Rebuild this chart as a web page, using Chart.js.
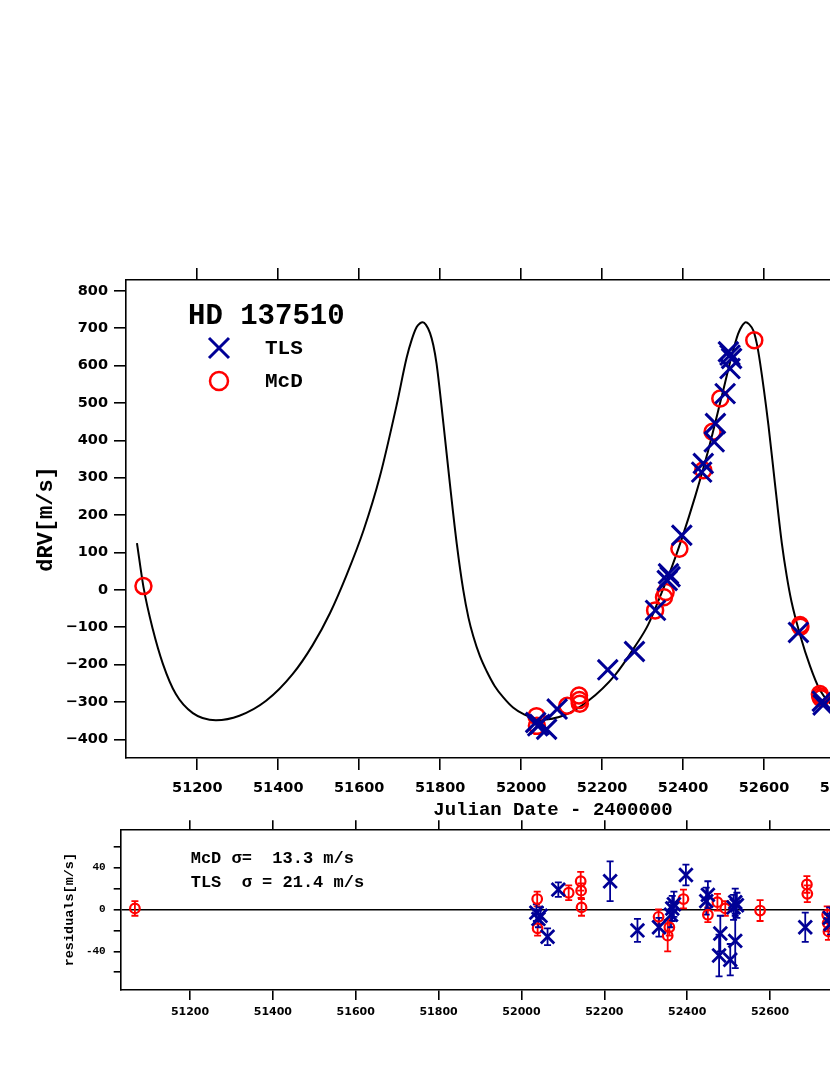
<!DOCTYPE html>
<html>
<head>
<meta charset="utf-8">
<script src="https://cdn.jsdelivr.net/npm/chart.js@4.4.1/dist/chart.umd.min.js"></script>
<style>
    html, body { margin: 0; padding: 0; background: #fff; overflow: hidden; }
    body { width: 830px; height: 1075px; position: relative; }
    #rv { position: absolute; left: 0; top: 0; }
    #res { position: absolute; left: 0; top: 800px; }
</style>
</head>
<body>
<canvas id="rv" width="1000" height="830"></canvas>
<canvas id="res" width="1000" height="275"></canvas>
<script>
// TLS: Julian date - 2400000, dRV (m/s), residual (m/s), error (m/s)
const tlsJD  = [52036, 52041, 52046, 52063, 52089, 52214, 52280, 52332, 52361, 52364, 52368, 52397,
                52446, 52450, 52477, 52480, 52504, 52512, 52516, 52516, 52520, 52685, 52744, 52746];
const tlsRV  = [-355, -364, -360, -373, -319, -214, -165, -55, 25, 43, 35, 146,
                315, 338, 396, 445, 525, 637, 628, 592, 619, -114, -298, -308];
const tlsRes = [-3, -9, -6, -26, 19, 27, -20, -17, -5, 1, 5, 33,
                8, 14, -44, -23, -48, 2, 7, -30, 4, -17, -8, -14];
const tlsErr = [8, 8, 8, 8, 7, 19, 11, 9, 12, 12, 12, 10,
                13, 13, 20, 17, 15, 12, 13, 26, 12, 14, 10, 10];

// McD
const mcdJD  = [51067, 52038, 52039, 52114, 52143, 52144, 52145, 52331, 52353, 52357,
                52391, 52450, 52473, 52492, 52576, 52689, 52690, 52738, 52739, 52741];
const mcdRV  = [10, -338, -364, -310, -283, -295, -305, -55, -20, -6,
                110, 320, 423, 512, 668, -94, -99, -279, -285, -290];
const mcdRes = [1, 10, -18, 16, 27, 18, 2, -7, -25, -17,
                10, -5, 7, 1, -1, 24, 15, -5, -13, -21];
const mcdErr = [7, 7, 7, 7, 9, 7, 8, 7, 15, 8,
                9, 7, 8, 7, 10, 8, 8, 8, 8, 8];

// orbit fit
const fitJD = [51051, 51067, 51090, 51115, 51147, 51189, 51246, 51304, 51370, 51436,
               51485, 51528, 51569, 51611, 51651, 51693, 51717, 51730, 51742, 51750,
               51757, 51765, 51775, 51783, 51791, 51808, 51824, 51841, 51857, 51870,
               51882, 51898, 51915, 51935, 51956, 51980, 52005, 52047, 52108, 52166,
               52232, 52281, 52314, 52347, 52372, 52397, 52430, 52462, 52495, 52520,
               52536, 52545, 52555, 52563, 52574, 52582, 52590, 52611, 52627, 52644,
               52656, 52668, 52689, 52714, 52738, 52763, 52800, 52850, 52900];
const fitRV = [125, 8, -105, -198, -279, -330, -349, -337, -297, -225,
               -148, -62, 40, 160, 303, 497, 620, 670, 703, 713,
               716, 709, 687, 655, 606, 445, 284, 123, 0, -75,
               -125, -177, -218, -258, -288, -315, -332, -348, -335, -297,
               -228, -152, -93, -8, 60, 137, 250, 372, 515, 625,
               685, 705, 716, 711, 693, 660, 610, 440, 285, 125,
               38, -32, -120, -205, -268, -303, -331, -347, -345];

const starName = 'HD 137510';
const sigmaLines = ['McD \u03C3=  13.3 m/s', 'TLS  \u03C3 = 21.4 m/s'];
const resLabelTicks = [-40, 0, 40];

const BLUE = '#000096';
const RED = '#ff0000';
const MONO = '"Liberation Mono", "DejaVu Sans Mono", monospace';
const SANS = '"DejaVu Sans", sans-serif';

function pts(xs, ys) {
    return xs.map((x, i) => ({ x: x, y: ys[i] }));
}

function minus(v) {
    return v < 0 ? '\u2212' + Math.abs(v) : String(v);
}

// legend drawn inside the upper panel
const rvLegend = {
    id: 'rvLegend',
    afterDraw(chart) {
        const ctx = chart.ctx;
        const a = chart.chartArea;
        ctx.save();
        ctx.fillStyle = '#000';
        ctx.textBaseline = 'middle';
        ctx.font = 'bold 29px ' + MONO;
        ctx.fillText(starName, a.left + 62, a.top + 37);

        const mx = a.left + 93;
        // TLS cross
        ctx.strokeStyle = BLUE;
        ctx.lineWidth = 3;
        ctx.beginPath();
        ctx.moveTo(mx - 10, a.top + 58); ctx.lineTo(mx + 10, a.top + 78);
        ctx.moveTo(mx - 10, a.top + 78); ctx.lineTo(mx + 10, a.top + 58);
        ctx.stroke();
        // McD circle
        ctx.strokeStyle = RED;
        ctx.lineWidth = 2.5;
        ctx.beginPath();
        ctx.arc(mx, a.top + 101, 9, 0, Math.PI * 2);
        ctx.stroke();

        ctx.font = 'bold 21px ' + MONO;
        ctx.fillText('TLS', a.left + 139, a.top + 69);
        ctx.fillText('McD', a.left + 139, a.top + 102);
        ctx.restore();
    }
};

// error bars + sigma text for the residual panel
const resExtras = {
    id: 'resExtras',
    beforeDatasetsDraw(chart) {
        const ctx = chart.ctx;
        const xs = chart.scales.x;
        const ys = chart.scales.y;
        const a = chart.chartArea;
        const sets = [[mcdJD, mcdRes, mcdErr, RED], [tlsJD, tlsRes, tlsErr, BLUE]];
        ctx.save();
        ctx.beginPath();
        ctx.rect(a.left, a.top, a.right - a.left, a.bottom - a.top);
        ctx.clip();
        ctx.lineWidth = 1.8;
        sets.forEach(([jd, res, err, col]) => {
            ctx.strokeStyle = col;
            jd.forEach((d, i) => {
                const px = xs.getPixelForValue(d);
                const y1 = ys.getPixelForValue(res[i] + err[i]);
                const y2 = ys.getPixelForValue(res[i] - err[i]);
                ctx.beginPath();
                ctx.moveTo(px, y1); ctx.lineTo(px, y2);
                ctx.moveTo(px - 3.5, y1); ctx.lineTo(px + 3.5, y1);
                ctx.moveTo(px - 3.5, y2); ctx.lineTo(px + 3.5, y2);
                ctx.stroke();
            });
        });
        ctx.restore();
    },
    afterDraw(chart) {
        const ctx = chart.ctx;
        const a = chart.chartArea;
        ctx.save();
        ctx.fillStyle = '#000';
        ctx.textBaseline = 'middle';
        ctx.font = 'bold 17px ' + MONO;
        ctx.fillText(sigmaLines[0], a.left + 70, a.top + 29);
        ctx.fillText(sigmaLines[1], a.left + 70, a.top + 53);
        ctx.restore();
    }
};

function topAxis(min, max, len) {
    return {
        type: 'linear', position: 'top', min: min, max: max,
        ticks: { stepSize: 200, includeBounds: false, autoSkip: false, maxRotation: 0, callback: () => '' },
        grid: { drawOnChartArea: false, tickLength: len, color: '#000', lineWidth: 1.6 },
        border: { color: '#000', width: 1.6 },
        afterFit: (s) => { s.height = len; }
    };
}

// upper panel: dRV vs time
const rvMin = 51023.9, rvMax = 53133.6;
new Chart(document.getElementById('rv'), {
    type: 'scatter',
    data: {
        datasets: [
            {
                label: 'TLS', data: pts(tlsJD, tlsRV),
                pointStyle: 'crossRot', pointRadius: 14, pointHoverRadius: 14,
                pointBorderWidth: 3, borderColor: BLUE, backgroundColor: BLUE
            },
            {
                label: 'McD', data: pts(mcdJD, mcdRV),
                pointStyle: 'circle', pointRadius: 8, pointHoverRadius: 8,
                pointBorderWidth: 2.5, borderColor: RED, backgroundColor: 'rgba(0,0,0,0)'
            },
            {
                label: 'fit', data: pts(fitJD, fitRV), showLine: true,
                cubicInterpolationMode: 'monotone', borderColor: '#000', borderWidth: 2,
                pointRadius: 0, fill: false
            }
        ]
    },
    options: {
        responsive: false,
        animation: false,
        events: [],
        layout: { padding: { top: 268, right: 20, bottom: 0, left: 0 } },
        plugins: { legend: { display: false }, tooltip: { enabled: false } },
        scales: {
            x: {
                type: 'linear', position: 'bottom', min: rvMin, max: rvMax,
                ticks: {
                    stepSize: 200, includeBounds: false, autoSkip: false, maxRotation: 0,
                    padding: 10, color: '#000', font: { family: SANS, size: 14.5, weight: 'bold' },
                    callback: (v) => String(v)
                },
                grid: { drawOnChartArea: false, tickLength: 12, color: '#000', lineWidth: 1.6 },
                border: { color: '#000', width: 1.6 },
                title: {
                    display: true, text: 'Julian Date - 2400000', color: '#000',
                    font: { family: MONO, size: 19, weight: 'bold' }, padding: { top: 0, bottom: 8 }
                },
                afterFit: (s) => { s.height = 72; }
            },
            x2: topAxis(rvMin, rvMax, 12),
            y: {
                type: 'linear', position: 'left', min: -450, max: 829,
                ticks: {
                    stepSize: 100, includeBounds: false, padding: 6, color: '#000',
                    font: { family: SANS, size: 14.5, weight: 'bold' },
                    callback: (v) => minus(v)
                },
                grid: { drawOnChartArea: false, tickLength: 12, color: '#000', lineWidth: 1.6 },
                border: { color: '#000', width: 1.6 },
                title: {
                    display: true, text: 'dRV[m/s]', color: '#000',
                    font: { family: MONO, size: 22, weight: 'bold' }, padding: { top: 32.8, bottom: 0 }
                },
                afterFit: (s) => { s.width = 126; }
            }
        }
    },
    plugins: [rvLegend]
});

// lower panel: residuals
const resMin = 51032.7, resMax = 53106.8;
new Chart(document.getElementById('res'), {
    type: 'scatter',
    data: {
        datasets: [
            {
                label: 'TLS', data: pts(tlsJD, tlsRes),
                pointStyle: 'crossRot', pointRadius: 9.5, pointHoverRadius: 9.5,
                pointBorderWidth: 2.8, borderColor: BLUE, backgroundColor: BLUE
            },
            {
                label: 'McD', data: pts(mcdJD, mcdRes),
                pointStyle: 'circle', pointRadius: 4.8, pointHoverRadius: 4.8,
                pointBorderWidth: 2.2, borderColor: RED, backgroundColor: 'rgba(0,0,0,0)'
            }
        ]
    },
    options: {
        responsive: false,
        animation: false,
        events: [],
        layout: { padding: { top: 20.3, right: 20, bottom: 0, left: 0 } },
        plugins: { legend: { display: false }, tooltip: { enabled: false } },
        scales: {
            x: {
                type: 'linear', position: 'bottom', min: resMin, max: resMax,
                ticks: {
                    stepSize: 200, includeBounds: false, autoSkip: false, maxRotation: 0,
                    padding: 6, color: '#000', font: { family: SANS, size: 11, weight: 'bold' },
                    callback: (v) => String(v)
                },
                grid: { drawOnChartArea: false, tickLength: 10, color: '#000', lineWidth: 1.6 },
                border: { color: '#000', width: 1.6 },
                afterFit: (s) => { s.height = 85; }
            },
            x2: topAxis(resMin, resMax, 9),
            y: {
                type: 'linear', position: 'left', min: -77, max: 76.7,
                ticks: {
                    stepSize: 20, includeBounds: false, padding: 8, color: '#000',
                    font: { family: MONO, size: 11, weight: 'bold' },
                    callback: (v) => resLabelTicks.includes(v) ? String(v) : ''
                },
                grid: {
                    drawOnChartArea: true, tickLength: 7, lineWidth: 1.6, tickColor: '#000',
                    color: (c) => (c.tick && c.tick.value === 0) ? '#000' : 'rgba(0,0,0,0)'
                },
                border: { color: '#000', width: 1.6 },
                title: {
                    display: true, text: 'residuals[m/s]', color: '#000',
                    font: { family: MONO, size: 13.5, weight: 'bold' }, padding: { top: 61.9, bottom: 0 }
                },
                afterFit: (s) => { s.width = 120.7; }
            }
        }
    },
    plugins: [resExtras]
});
</script>
</body>
</html>
